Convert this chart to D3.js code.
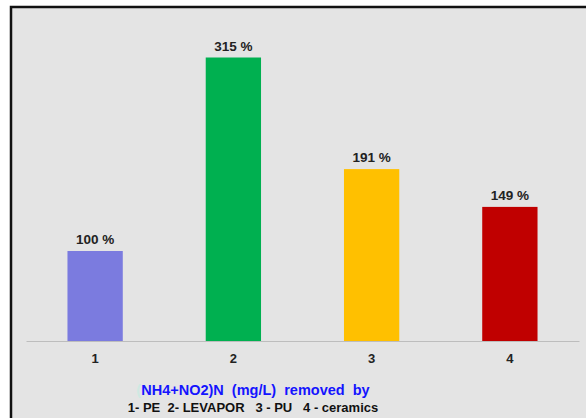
<!DOCTYPE html>
<html>
<head>
<meta charset="utf-8">
<style>
  body { margin: 0; background: #fff; }
  svg { display: block; font-family: "Liberation Sans", Arial, sans-serif; }
</style>
</head>
<body>
<svg width="586" height="418"></svg>
<script src="https://d3js.org/d3.v7.min.js"></script>
<script>
var categories = ["1", "2", "3", "4"];
var values = [100, 315, 191, 149];
var barColors = ["#7b7bdf", "#00b050", "#ffc000", "#c00000"];
var titleLine = "NH4+NO2)N  (mg/L)  removed  by";
var subtitleLine = "1- PE  2- LEVAPOR   3 - PU   4 - ceramics";

var svg = d3.select("svg");

// panel with dark frame on top/left
svg.append("rect")
    .attr("x", 11).attr("y", 7)
    .attr("width", 600).attr("height", 430)
    .attr("fill", "#e4e4e4");
svg.append("path")
    .attr("d", "M11,420V7H586")
    .attr("fill", "none")
    .attr("stroke", "#111")
    .attr("stroke-width", 2.5);

var x = d3.scaleBand()
    .domain(categories)
    .range([26, 579])
    .paddingInner(0.6)
    .paddingOuter(0.3);

var y = d3.scaleLinear()
    .domain([0, 315])
    .range([341, 57.5]);

svg.append("g")
  .selectAll("rect")
  .data(values)
  .enter().append("rect")
    .attr("x", function(d, i) { return x(categories[i]); })
    .attr("y", function(d) { return y(d); })
    .attr("width", x.bandwidth())
    .attr("height", function(d) { return y(0) - y(d); })
    .attr("fill", function(d, i) { return barColors[i]; });

svg.append("g")
  .selectAll("text")
  .data(values)
  .enter().append("text")
    .attr("x", function(d, i) { return x(categories[i]) + x.bandwidth() / 2; })
    .attr("y", function(d) { return y(d) - 7; })
    .attr("text-anchor", "middle")
    .attr("font-size", 13.5)
    .attr("font-weight", "bold")
    .attr("fill", "#222")
    .text(function(d) { return d + " %"; });

var axis = svg.append("g")
    .attr("transform", "translate(0,341)")
    .call(d3.axisBottom(x).tickSize(0).tickPadding(13));
axis.select(".domain").attr("stroke", "#bdbdbd").attr("stroke-width", 1.2);
axis.selectAll("text")
    .attr("font-size", 13)
    .attr("font-weight", "bold")
    .attr("font-family", "Liberation Sans, Arial, sans-serif")
    .attr("fill", "#222");

var title = svg.append("text")
    .attr("x", 253)
    .attr("y", 395)
    .attr("text-anchor", "middle")
    .attr("font-size", 14.5)
    .attr("font-weight", "bold")
    .style("white-space", "pre");
title.append("tspan").attr("fill", "#cfe9e2").text("(");
title.append("tspan").attr("fill", "#1414ff").text(titleLine);

svg.append("text")
    .attr("x", 253)
    .attr("y", 412)
    .attr("text-anchor", "middle")
    .attr("font-size", 13)
    .attr("font-weight", "bold")
    .attr("fill", "#111")
    .style("white-space", "pre")
    .text(subtitleLine);
</script>
</body>
</html>
